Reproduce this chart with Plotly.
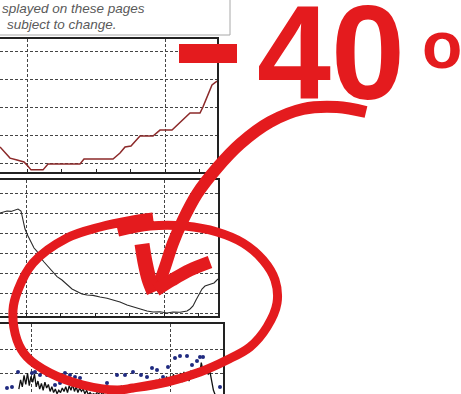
import plotly.graph_objects as go

W, H = 461, 394
RED = "#e41b1e"

# ---------------- Panel 1 (dark red line) ----------------
p1_x = [-0.783, -0.638, -0.493, -0.290, -0.087, 0.0, 0.116, 0.464, 0.609, 1.536, 1.652,
        2.493, 2.696, 2.841, 3.014, 3.275, 3.652, 3.855, 4.203, 4.725, 5.014, 5.101,
        5.246, 5.362, 5.478, 5.507]
p1_y = [6.1, 3.9, 2.1, 1.4, 0.7, -0.4, -2.1, -2.1, 0.0, 0.0, 1.8,
        1.8, 3.9, 6.1, 6.4, 10.0, 10.0, 12.1, 12.1, 18.2, 18.2, 20.4,
        24.6, 28.2, 29.3, 29.6]

# ---------------- Panel 2 (black temperature line) ----------------
p2_x = [-0.754, -0.638, -0.551, -0.435, -0.319, -0.232, -0.145, -0.087, -0.029, 0.058,
        0.145, 0.232, 0.319, 0.406, 0.522, 0.638, 0.754, 0.899, 1.043, 1.188,
        1.333, 1.478, 1.623, 1.768, 1.942, 2.145, 2.348, 2.522, 2.725, 2.928,
        3.101, 3.304, 3.507, 3.681, 3.884, 4.087, 4.261, 4.464, 4.667, 4.754,
        4.841, 4.928, 5.014, 5.101, 5.188, 5.275, 5.362, 5.449, 5.507, 5.565]
p2_y = [-15.0, -14.75, -14.5, -14.6, -14.25, -14.0, -14.5, -16.75, -19.0, -20.75,
        -22.25, -23.75, -24.6, -26.0, -27.25, -28.4, -29.5, -30.9, -31.75, -33.0,
        -34.0, -34.6, -35.25, -35.5, -35.6, -36.0, -36.3, -36.75, -37.25, -38.0,
        -38.5, -39.0, -39.5, -39.75, -39.7, -40.0, -39.75, -39.8, -39.5, -39.0,
        -38.25, -36.75, -35.25, -34.0, -33.25, -33.0, -32.75, -32.5, -32.0, -31.5]

# ---------------- Panel 3 (noisy series + blue dots) ----------------
p3_start, p3_step = -0.35, 0.05
p3_vals = [6, 14, 8, 18, 10, 20, 9, 17, 12, 19,
           8, 13, 6, 11, 5, 12, 7, 10, 4, 8,
           3, 6, 2, 5, 3, 7, 4, 8, 3, 9,
           5, 10, 4, 8, 3, 7, 4, 6, 2, 5,
           1, 3, 1, 2, 1, 3, 2, 4, 1, 3,
           3, 6, 2, 7, 4, 8, 3, 7, 5, 9,
           4, 8, 3, 9, 5, 8, 4, 7, 5, 9,
           6, 10, 5, 9, 7, 12, 6, 11, 8, 14,
           9, 15, 8, 13, 11, 17, 10, 16, 12, 19,
           11, 18, 13, 20, 12, 21, 14, 19, 13, 22,
           15, 20, 16, 24, 18, 29, 22, 20, 21, 19,
           21, 12, 5, 1]
p3_x = [round(p3_start + i * p3_step, 3) for i in range(len(p3_vals))]
p3_dot_x = [-0.691, -0.547, -0.374, -0.173, 0.029, 0.115, 0.259, 0.460, 0.691, 0.835,
            0.978, 1.122, 1.266, 1.410, 2.187, 2.475, 2.705, 2.935, 3.165, 3.338,
            3.482, 3.626, 3.799, 3.942, 4.144, 4.288, 4.489, 4.633, 4.777, 4.863,
            4.950, 5.439]
p3_dot_y = [7.0, 7.8, 20.9, 33.9, 20.0, 20.9, 18.3, 18.3, 9.6, 11.3,
            20.0, 18.3, 16.5, 15.7, 11.3, 18.3, 18.3, 20.9, 18.3, 16.5,
            24.3, 22.6, 16.5, 25.2, 33.0, 34.8, 34.8, 27.0, 30.4, 33.9,
            33.9, 7.8]

# ---------------- Hand-drawn red markup (overlay pixel space) ----------------
circle_x = [153, 133, 100, 67, 33, 18, 13, 17, 27, 50, 83, 117, 133, 167, 200, 227, 250,
            267, 277, 275, 263, 243, 217, 185, 150, 118]
circle_y = [217, 220, 227, 238, 263, 290, 310, 340, 357, 373, 385, 390, 388, 382, 372, 360,
            347, 327, 303, 280, 260, 243, 232, 226, 226, 232]
arrow_x = [366, 337, 303, 270, 240, 217, 197, 183, 173, 165, 157]
arrow_y = [112, 107, 109, 122, 144, 168, 194, 220, 243, 267, 290]
headL_x = [142, 145, 149, 154]
headL_y = [244, 262, 279, 292]
headR_x = [210, 190, 172, 156]
headR_y = [262, 270, 280, 290]
minus_box = [179, 44, 237, 63]

# ---------------- Figure ----------------
def dom_x(a, b):
    return [a / W, b / W]


def dom_y(top, bot):
    return [max(0, 1 - bot / H), 1 - top / H]


fig = go.Figure()
fig.add_trace(go.Scatter(x=p1_x, y=p1_y, xaxis="x", yaxis="y", mode="lines",
                         line=dict(color="#8c2a2a", width=1.5)))
fig.add_trace(go.Scatter(x=p2_x, y=p2_y, xaxis="x2", yaxis="y2", mode="lines",
                         line=dict(color="#2a2a2a", width=1.1)))
fig.add_trace(go.Scatter(x=p3_x, y=p3_vals, xaxis="x3", yaxis="y3", mode="lines",
                         line=dict(color="#111111", width=1.3)))
fig.add_trace(go.Scatter(x=p3_dot_x, y=p3_dot_y, xaxis="x3", yaxis="y3", mode="markers",
                         marker=dict(color="#1f2a80", size=4)))

for xs, ys, w in [(circle_x, circle_y, 9), (arrow_x, arrow_y, 12),
                  (headL_x, headL_y, 15), (headR_x, headR_y, 13)]:
    fig.add_trace(go.Scatter(x=xs, y=ys, xaxis="x4", yaxis="y4", mode="lines",
                             line=dict(color=RED, width=w, shape="spline", smoothing=1.0)))

grid = dict(showgrid=True, gridcolor="#444", gridwidth=1, griddash="3px,2px",
            zeroline=False, showticklabels=False)
axline = dict(showline=True, linecolor="#222", linewidth=1.5)
minor = dict(dtick=1, tick0=0, ticks="inside", ticklen=3, tickcolor="#222", showgrid=False)

fig.update_layout(
    width=W, height=H, margin=dict(l=0, r=0, t=0, b=0),
    paper_bgcolor="white", plot_bgcolor="rgba(0,0,0,0)", showlegend=False,
    xaxis=dict(domain=dom_x(0, 217), range=[-0.783, 5.507], anchor="y", dtick=4, tick0=0,
               ticks="inside", ticklen=3, tickcolor="#222", mirror=True, minor=minor,
               **axline, **grid),
    yaxis=dict(domain=dom_y(39, 172), range=[-2.86, 44.64], anchor="x", side="right",
               dtick=10, tick0=0, ticks="", **axline, **grid),
    xaxis2=dict(domain=dom_x(0, 218), range=[-0.754, 5.565], anchor="y2", dtick=4, tick0=0,
                ticks="inside", ticklen=3, tickcolor="#222", mirror=True, minor=minor,
                **axline, **grid),
    yaxis2=dict(domain=dom_y(180, 316), range=[-40.75, -6.75], anchor="x2", side="right",
                dtick=5, tick0=0, ticks="", **axline, **grid),
    xaxis3=dict(domain=dom_x(0, 223), range=[-0.892, 5.525], anchor="y3", side="top",
                dtick=4, tick0=0, ticks="", **axline, **grid),
    yaxis3=dict(domain=dom_y(324, 394), range=[1.74, 62.6], anchor="x3", side="right",
                tickvals=[20, 40], ticks="", **axline, **grid),
    xaxis4=dict(domain=[0, 1], range=[0, W], anchor="y4", visible=False),
    yaxis4=dict(domain=[0, 1], range=[H, 0], anchor="x4", visible=False),
)

# text box at top
fig.add_shape(type="rect", xref="x4", yref="y4", x0=-3, y0=-3, x1=230, y1=35,
              line=dict(color="#a8a8a8", width=1), fillcolor="rgba(0,0,0,0)", layer="below")
fig.add_shape(type="rect", xref="x4", yref="y4", x0=minus_box[0], y0=minus_box[1],
              x1=minus_box[2], y1=minus_box[3], line=dict(width=0), fillcolor=RED, layer="above")

txt_font = dict(family="Liberation Sans, Arial, sans-serif", size=13.5, color="#5a5a5a",
                style="italic")
fig.add_annotation(xref="x4", yref="y4", x=0, y=8, xanchor="left", yanchor="middle",
                   text="splayed on these pages", showarrow=False, font=txt_font)
fig.add_annotation(xref="x4", yref="y4", x=5, y=24, xanchor="left", yanchor="middle",
                   text="subject to change.", showarrow=False, font=txt_font)

big_font = dict(family="Liberation Sans, Arial, sans-serif", size=133, color=RED, weight="bold")
fig.add_annotation(xref="x4", yref="y4", x=331, y=53, xanchor="center", yanchor="middle",
                   text="40", showarrow=False, font=big_font)
fig.add_annotation(xref="x4", yref="y4", x=442, y=45, xanchor="center", yanchor="middle",
                   text="o", showarrow=False,
                   font=dict(family="Liberation Sans, Arial, sans-serif", size=66, color=RED,
                             weight="bold"))

fig.write_html("out.html")
